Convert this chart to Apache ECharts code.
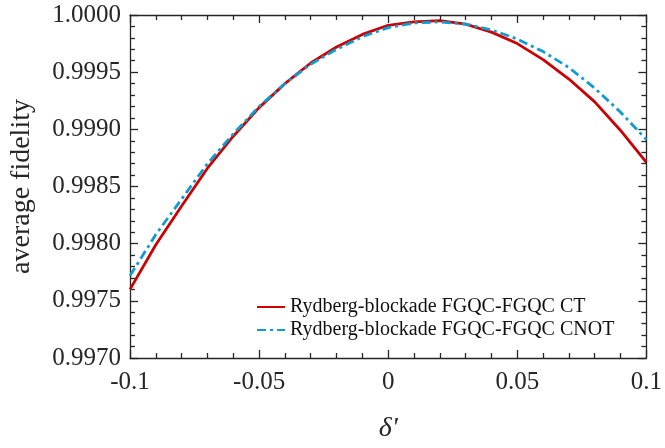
<!DOCTYPE html>
<html>
<head>
<meta charset="utf-8">
<script src="https://cdn.jsdelivr.net/npm/echarts@6/dist/echarts.min.js"></script>
<style>
  html, body { margin: 0; padding: 0; background: #fff; }
  #main { width: 665px; height: 448px; }
</style>
</head>
<body>
<div id="main"></div>
<script>
// δ' 取樣點
var deltas = [-0.10, -0.09, -0.08, -0.07, -0.06, -0.05, -0.04, -0.03, -0.02, -0.01, 0.00,
              0.01, 0.02, 0.03, 0.04, 0.05, 0.06, 0.07, 0.08, 0.09, 0.10];

// Rydberg-blockade FGQC-FGQC CT
var ctFidelity = [0.99760, 0.99799, 0.99833, 0.99866, 0.99894, 0.99919, 0.99940, 0.99958, 0.99972, 0.99983, 0.99991,
                  0.99994, 0.99995, 0.99992, 0.99985, 0.99975, 0.99961, 0.99944, 0.99924, 0.99899, 0.99871];

// Rydberg-blockade FGQC-FGQC CNOT
var cnotFidelity = [0.99772, 0.99808, 0.99839, 0.99870, 0.99896, 0.99920, 0.99940, 0.99957, 0.99970, 0.99981, 0.99989,
                    0.99993, 0.99994, 0.99992, 0.99987, 0.99979, 0.99968, 0.99954, 0.99936, 0.99915, 0.99891];

var seriesNames = ['Rydberg-blockade FGQC-FGQC CT', 'Rydberg-blockade FGQC-FGQC CNOT'];

var xTicks = { min: -0.1, max: 0.1, step: 0.05 };
var yTicks = { min: 0.997, max: 1.0, step: 0.0005 };

function pairs(ys) {
    return deltas.map(function (d, i) { return [d, ys[i]]; });
}

var font = "Liberation Serif";
var axisColor = '#262626';

var chart = echarts.init(document.getElementById('main'));

function xAxisOf(pos, showLabel) {
    return {
        type: 'value',
        position: pos,
        min: xTicks.min,
        max: xTicks.max,
        interval: xTicks.step,
        name: showLabel ? "δ'" : '',
        nameLocation: 'middle',
        nameGap: 57,
        nameTextStyle: { fontFamily: font, fontSize: 28, fontStyle: 'italic', color: axisColor },
        axisLine: { show: true, onZero: false, lineStyle: { color: axisColor, width: 1.3 } },
        axisTick: { show: true, inside: true, length: 8, lineStyle: { color: axisColor, width: 1.3 } },
        minorTick: { show: true, splitNumber: 5, length: 5, lineStyle: { color: axisColor, width: 1.3 } },
        splitLine: { show: false },
        axisLabel: { show: showLabel, fontFamily: font, fontSize: 25, color: axisColor, margin: 12 }
    };
}

function yAxisOf(pos, showLabel) {
    return {
        type: 'value',
        position: pos,
        min: yTicks.min,
        max: yTicks.max,
        interval: yTicks.step,
        name: showLabel ? 'average fidelity' : '',
        nameLocation: 'middle',
        nameGap: 94,
        nameTextStyle: { fontFamily: font, fontSize: 28, color: axisColor },
        axisLine: { show: true, onZero: false, lineStyle: { color: axisColor, width: 1.3 } },
        axisTick: { show: true, inside: true, length: 8, lineStyle: { color: axisColor, width: 1.3 } },
        minorTick: { show: true, splitNumber: 5, length: 5, lineStyle: { color: axisColor, width: 1.3 } },
        splitLine: { show: false },
        axisLabel: {
            show: showLabel, fontFamily: font, fontSize: 25, color: axisColor, margin: 9,
            formatter: function (v) { return v.toFixed(4); }
        }
    };
}

var option = {
    animation: false,
    grid: { left: 121, right: 16, top: 15, bottom: 66, containLabel: false },
    legend: {
        data: seriesNames,
        orient: 'vertical',
        left: 256,
        top: 297,
        padding: 0,
        itemWidth: 28,
        itemHeight: 14,
        itemGap: 3,
        itemStyle: { opacity: 0 }, // 只留線段，不要中間的圓點
        textStyle: { fontFamily: font, fontSize: 20, color: '#111' }
    },
    xAxis: [xAxisOf('bottom', true), xAxisOf('top', false)],
    yAxis: [yAxisOf('left', true), yAxisOf('right', false)],
    series: [{
        name: seriesNames[0],
        type: 'line',
        data: pairs(ctFidelity),
        showSymbol: false,
        symbol: 'none',
        lineStyle: { color: '#CC0000', width: 2.8 },
        itemStyle: { color: '#CC0000' }
    }, {
        name: seriesNames[1],
        type: 'line',
        data: pairs(cnotFidelity),
        showSymbol: false,
        symbol: 'none',
        lineStyle: { color: '#109CCF', width: 2.8, type: [9, 4, 3, 4] },
        itemStyle: { color: '#109CCF' }
    }]
};

chart.setOption(option);
</script>
</body>
</html>
